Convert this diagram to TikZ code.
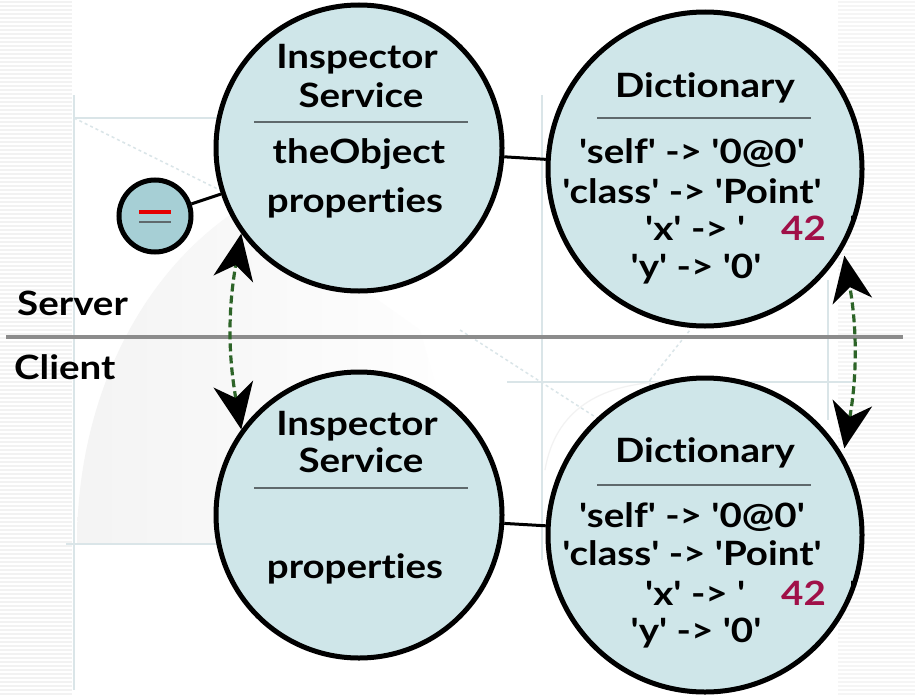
\documentclass[tikz,border=0pt]{standalone}
\usepackage{fontspec}
\setmainfont{Lato}[Ligatures={TeXOff,NoCommon},FakeStretch=1.15]
\usetikzlibrary{arrows.meta,calc}
\definecolor{bubble}{RGB}{207,230,233}
\definecolor{smallbubble}{RGB}{166,207,213}
\definecolor{darkgreen}{RGB}{45,100,40}
\definecolor{maroon}{RGB}{160,16,72}
\definecolor{faint}{RGB}{218,229,232}
\definecolor{divgray}{RGB}{95,105,108}
\begin{document}
\begin{tikzpicture}[x=1pt,y=-1pt,
  big/.style={circle,draw=black,line width=5pt,fill=bubble,minimum size=#1,inner sep=0pt},
  txt/.style={font=\fontsize{33.5}{38}\selectfont\bfseries,anchor=base,inner sep=0pt},
  lbl/.style={font=\fontsize{33.5}{38}\selectfont\bfseries,anchor=base west,inner sep=0pt},
  conn/.style={line width=3pt,draw=black},
  divider/.style={line width=1.5pt,draw=divgray},
  sync/.style={line width=3.2pt,draw=darkgreen,dash pattern=on 8pt off 4pt,
    arrows={Stealth[length=46pt,width=40pt,inset=14pt,color=black]-Stealth[length=46pt,width=40pt,inset=14pt,color=black]}},
  bgline/.style={draw=faint,line width=1.5pt}]
\useasboundingbox (0,0) rectangle (915,696);
\fill[white] (0,0) rectangle (915,696);
% background decoration
\foreach \yy in {2,6,...,696} {
  \draw[gray!10,line width=1.4pt] (0,\yy) -- (72,\yy);
  \draw[gray!8,line width=1.4pt] (838,\yy) -- (915,\yy);
}
\shade[left color=gray!9,right color=white] (77,544) .. controls (77,400) and (140,270) .. (245,205) -- (420,330) -- (480,544) -- cycle;
\draw[bgline] (74,95) -- (74,690);
\draw[bgline] (74,118) -- (225,118);
\draw[bgline] (66,544) -- (220,544);
\draw[bgline,dashed] (74,118) -- (240,200);
\draw[bgline] (542,95) -- (542,560);
\draw[bgline] (507,382) -- (853,382);
\draw[bgline] (650,380) -- (650,440);
\draw[bgline] (828,280) -- (828,420);
\draw[bgline,dashed] (460,330) -- (600,420);
\draw[bgline,dashed] (650,380) -- (690,330);
\draw[gray!10,line width=1.2pt] (545,470) .. controls (555,410) and (600,385) .. (660,382);
% separator
\draw[gray!90,line width=3.5pt] (6,337) -- (903,337);
\node[lbl] (server) at (17,315) {Server};
\node[lbl] (client) at (14,379) {Client};
% circles
\node[big=286pt] (insT) at (359,148) {};
\node[big=314pt] (dictT) at (705,169) {};
\node[big=286pt] (insB) at (359,515) {};
\node[big=314pt] (dictB) at (705,535) {};
\node[circle,draw=black,line width=5pt,fill=smallbubble,minimum size=72pt,inner sep=0pt] (port) at (155,216) {};
\draw[red!90!black,line width=4pt] ($(port.center)+(-16,-4)$) coordinate (r1) -- ($(port.center)+(16,-4)$) coordinate (r2);
\draw[divgray,line width=2pt] ($(port.center)+(-16,6)$) coordinate (g1) -- ($(port.center)+(16,6)$) coordinate (g2);
% connectors
\draw[conn] (port) -- (insT);
\draw[conn] (insT) -- (dictT);
\draw[conn] (insB) -- (dictB);
% top inspector text
\node[txt] (t1) at (357,68) {Inspector};
\node[txt] (t2) at (361,107) {Service};
\coordinate (dl1) at (254,122); \coordinate (dr1) at (468,122);
\draw[divider] (dl1) -- (dr1);
\node[txt] (t3) at (359,163) {theObject};
\node[txt] (t4) at (355,212) {properties};
% top dictionary text
\node[txt] (d1) at (705,97) {Dictionary};
\coordinate (dl2) at (597,118); \coordinate (dr2) at (811,118);
\draw[divider] (dl2) -- (dr2);
\node[txt] (d2) at (692,163) {'self' -> '0@0'};
\node[txt] (d3) at (692,203) {'class' -> 'Point'};
\node[txt,anchor=base west] (d4) at (645,240) {'x' -> '};
\node[txt,anchor=base west,text=maroon] (d5) at (781,240) {42};
\node[txt,anchor=base west] (d6) at (849,240) {'};
\node[txt] (d7) at (696,278) {'y' -> '0'};
% bottom inspector text
\node[txt] (b1) at (357,435) {Inspector};
\node[txt] (b2) at (361,472) {Service};
\coordinate (dl3) at (254,488); \coordinate (dr3) at (468,488);
\draw[divider] (dl3) -- (dr3);
\node[txt] (b3) at (355,578) {properties};
% bottom dictionary text
\node[txt] (e1) at (705,462) {Dictionary};
\coordinate (dl4) at (597,485); \coordinate (dr4) at (811,485);
\draw[divider] (dl4) -- (dr4);
\node[txt] (e2) at (692,527) {'self' -> '0@0'};
\node[txt] (e3) at (692,565) {'class' -> 'Point'};
\node[txt,anchor=base west] (e4) at (645,605) {'x' -> '};
\node[txt,anchor=base west,text=maroon] (e5) at (781,605) {42};
\node[txt,anchor=base west] (e6) at (849,605) {'};
\node[txt] (e7) at (696,642) {'y' -> '0'};
% synchronisation arrows
\draw[sync] (insB.144.6) to[out=100,in=-100] (insT.216.7);
\draw[sync,shorten <=7pt,shorten >=7pt] (dictB.30.3) to[out=80,in=-80] (dictT.-30.4);
\end{tikzpicture}
\end{document}
